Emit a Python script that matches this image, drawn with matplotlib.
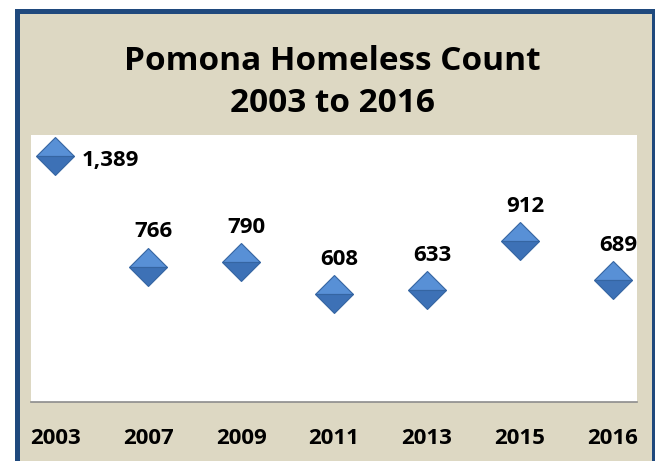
import matplotlib.pyplot as plt
from matplotlib.patches import Rectangle

# homeless counts by survey year
years = ["2003", "2007", "2009", "2011", "2013", "2015", "2016"]
counts = [1389, 766, 790, 608, 633, 912, 689]

plt.rcParams["font.family"] = ["Open Sans", "DejaVu Sans"]

fig = plt.figure(figsize=(6.55, 4.61), dpi=100)
fig.patch.set_facecolor("white")

# beige panel with a dark blue frame
W, H = 655, 461
frame = Rectangle((16.5 / W, -0.05), (653.5 - 16.5) / W, (H - 11.5) / H + 0.05,
                  transform=fig.transFigure, facecolor="#DDD8C3",
                  edgecolor="#1F497D", linewidth=3.6, zorder=0)
fig.patches.append(frame)

fig.text(0.508, 1 - 61 / H, "Pomona Homeless Count", ha="center", va="center",
         fontsize=24, fontweight="bold", color="black")
fig.text(0.508, 1 - 104 / H, "2003 to 2016", ha="center", va="center",
         fontsize=24, fontweight="bold", color="black")

ax = fig.add_axes([31 / W, 59 / H, (637 - 31) / W, (402 - 135) / H])
ax.set_zorder(2)
ax.set_facecolor("white")

x = list(range(len(years)))
ax.plot(x, counts, linestyle="none", marker="D", markersize=19,
        fillstyle="top", markerfacecolor="#5890D6",
        markerfacecoloralt="#3D71B6", markeredgecolor="#3565A2",
        markeredgewidth=0.8, zorder=3, clip_on=False)

for i, v in enumerate(counts):
    txt = f"{v:,}"
    if i == 0:
        ax.annotate(txt, (i, v), xytext=(19, -3), textcoords="offset points",
                    ha="left", va="center", fontsize=16, fontweight="bold")
    else:
        ax.annotate(txt, (i, v), xytext=(4, 25), textcoords="offset points",
                    ha="center", va="center", fontsize=16, fontweight="bold")

ax.set_xlim(-0.26, len(years) - 1 + 0.26)
ax.set_ylim(0, 1510)
ax.set_xticks(x)
ax.set_xticklabels(years, fontsize=16, fontweight="bold")
ax.tick_params(axis="x", length=0, pad=19)
ax.set_yticks([])
for side in ["top", "left", "right"]:
    ax.spines[side].set_visible(False)
ax.spines["bottom"].set_color("#8C8C8C")
ax.spines["bottom"].set_linewidth(1.2)

fig.savefig("out.png", dpi=100)
